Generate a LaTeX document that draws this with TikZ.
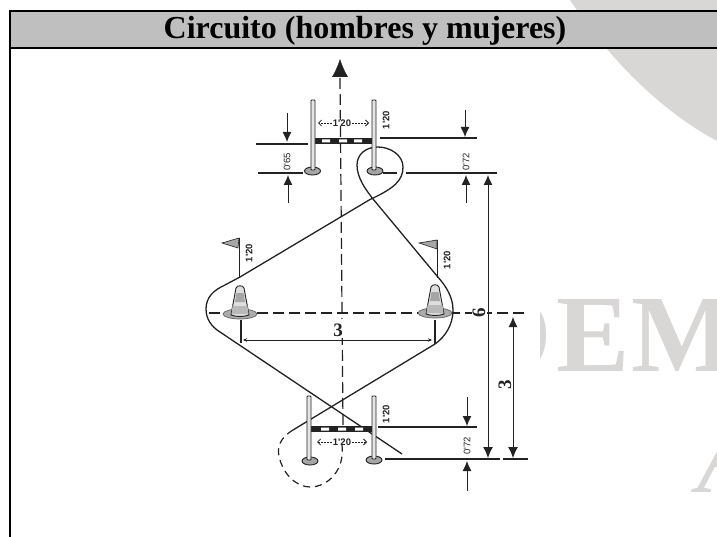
\documentclass[tikz,border=0pt]{standalone}
\usepackage{fontspec}
\setmainfont{Liberation Serif}
\newfontfamily\lsans{Liberation Sans}
\usetikzlibrary{arrows.meta}
\definecolor{wm}{HTML}{D8D7D6}
\definecolor{ink}{HTML}{222222}
\tikzset{
  x=1pt,y=-1pt,
  track/.style={draw=ink,line width=1.3pt},
  dashtrack/.style={draw=ink,line width=1.2pt,dash pattern=on 7pt off 5pt},
  axis/.style={draw=ink,line width=1.2pt,dash pattern=on 11pt off 5pt},
  dimline/.style={draw=ink,line width=1.1pt},
  dimarrow/.style={draw=ink,line width=1pt,-{Latex[length=10pt,width=9pt]}},
  bothsmall/.style={draw=ink,line width=1pt,{Stealth[length=4pt,width=3.5pt]}-{Stealth[length=4pt,width=3.5pt]}},
  sidearrow/.style={draw=ink,line width=0.8pt,dash pattern=on 2pt off 1pt,-{Straight Barb[length=3pt,width=6pt]}},
  midtip/.style={draw=none,-{Latex[length=12pt,width=10pt]}},
  smalltxt/.style={font=\lsans\bfseries\fontsize{9.5}{9.5}\selectfont,text=ink,inner sep=0pt},
  bigtxt/.style={font=\bfseries\fontsize{19}{19}\selectfont,text=ink,inner sep=0pt},
  post/.style={draw=ink,line width=0.9pt,fill=gray!20,rounded corners=0.8pt},
  base/.style={draw=ink,line width=0.9pt,fill=gray!70},
  flag/.style={draw=ink,line width=0.6pt,fill=gray!70},
  wmtxt/.style={text=wm,inner sep=0pt,font=\bfseries\fontsize{110}{110}\selectfont},
}
\newcommand{\conedraw}[2]{%
  \fill[gray!65,draw=ink!70,line width=0.7pt] (#1,#2+1) ellipse [x radius=17,y radius=5];
  \path[draw=ink,line width=0.9pt,fill=gray!25] (#1-9,#2+2) -- (#1-4,#2-25) .. controls (#1-3,#2-28) and (#1+3,#2-28) .. (#1+4,#2-25) -- (#1+9,#2+2) .. controls (#1+4,#2+4) and (#1-4,#2+4) .. cycle;
  \fill[gray!70] (#1-3.5,#2-20) -- (#1+3.5,#2-20) -- (#1+5,#2-11) -- (#1-5,#2-11) -- cycle;
  \fill[gray!55] (#1-7.5,#2-7) -- (#1+7.5,#2-7) -- (#1+8.5,#2+1) -- (#1-8.5,#2+1) -- cycle;
}
\begin{document}
\begin{tikzpicture}
\useasboundingbox (0,0) rectangle (717,537);
\begin{scope}
\clip (0,0) rectangle (717,537);
% watermark
\fill[wm] (570,0) .. controls (600,45) and (650,105) .. (717,141) -- (717,0) -- cycle;
\node[wmtxt,anchor=base east] (wmD) at (552,371) {D};
\node[wmtxt,anchor=base west] (wmE) at (556,371) {E};
\node[wmtxt,anchor=base west] (wmM) at (631,371) {M};
\node[wmtxt,anchor=base west,font=\itshape\fontsize{110}{110}\selectfont] (wmA) at (697,492) {A};
\fill[white] (12,50) rectangle (540,537);
% header
\fill[black!25] (10,11) rectangle (717,48);
\draw[black,line width=2pt] (717,11) -- (10,11) -- (10,537);
\draw[black,line width=2pt] (10,48) -- (717,48);
\node[font=\bfseries\fontsize{32}{32}\selectfont,inner sep=0pt] (title) at (365,31) {Circuito (hombres y mujeres)};
\end{scope}

% axes
\coordinate (axT) at (340,59);
\coordinate (axTb) at (340,78);
\coordinate (axB) at (343,425);
\draw[axis] (axTb) -- (axB);
\draw[draw=ink,-{Latex[length=18pt,width=16pt]}] (340,76) -- (axT);
\coordinate (hzL) at (209,313);
\coordinate (hzR) at (525,313);
\draw[axis] (hzL) -- (hzR);

% track
\draw[track] (240,277) -- (370,199.5)
  .. controls (395,188) and (403,180) .. (403,167)
  .. controls (403,155) and (390,147) .. (378,147)
  .. controls (365,147) and (357,155) .. (357,165)
  .. controls (357,178) and (366,190) .. (373,199)
  -- (437,276)
  .. controls (447,287) and (453,298) .. (453,310)
  .. controls (453,325) and (445,337) .. (435,344)
  -- (293,430);
\draw[dashtrack] (293,430)
  .. controls (280,438) and (277,447) .. (279,456)
  .. controls (283,475) and (297,487) .. (310,487)
  .. controls (328,487) and (345,470) .. (342,445);
\draw[track] (402,454) -- (217,330)
  .. controls (208,323) and (206,315) .. (206,309)
  .. controls (206,297) and (214,290) .. (225,285) -- (240,277);
\path[midtip] (292,246) -- (301,240.5);
\path[midtip] (382,211) -- (390,221);
\path[midtip] (398,365) -- (389,370.5);
\path[midtip] (295,383.5) -- (286,377.5);

% cones and flags
\conedraw{240}{313}
\conedraw{435}{312}
\draw[track] (239.5,238) -- (239.5,278);
\draw[flag] (239,238) -- (222,243) -- (238,248) -- cycle;
\draw[track] (437.5,240) -- (437.5,278);
\draw[flag] (437,240) -- (419,243) -- (437,249) -- cycle;
\node[smalltxt,rotate=90] (fl1) at (249,253) {1'20};
\node[smalltxt,rotate=90] (fl2) at (447,260) {1'20};

% upper gate
\fill[ink] (312,138) rectangle (375,144);
\fill[white] (322,139.5) rectangle (330,142.5) (339,139.5) rectangle (347,142.5) (354,139.5) rectangle (362,142.5);
\draw[base] (312.5,171) ellipse [x radius=8,y radius=4];
\draw[base] (375,171) ellipse [x radius=8,y radius=4];
\draw[post] (311,100) rectangle (315,170);
\draw[post] (372,100) rectangle (376,170);
\node[smalltxt,fill=white,inner xsep=1pt] (w1) at (342,123) {1'20};
\coordinate (w1L) at (318,123);
\coordinate (w1R) at (369,123);
\draw[sidearrow] (w1) -- (w1L);
\draw[sidearrow] (w1) -- (w1R);
\node[smalltxt,rotate=90] (h1) at (386,120) {1'20};

% lower gate
\fill[ink] (311,426) rectangle (372,432);
\fill[white] (321,427.5) rectangle (329,430.5) (338,427.5) rectangle (346,430.5) (355,427.5) rectangle (363,430.5);
\draw[base] (310,461) ellipse [x radius=8,y radius=4];
\draw[base] (374,460) ellipse [x radius=8,y radius=4];
\draw[post] (307,396) rectangle (311,460);
\draw[post] (372,396) rectangle (376,459);
\node[smalltxt,fill=white,inner xsep=1pt] (w2) at (342,442) {1'20};
\coordinate (w2L) at (317,442);
\coordinate (w2R) at (367,442);
\draw[sidearrow] (w2) -- (w2L);
\draw[sidearrow] (w2) -- (w2R);
\node[smalltxt,rotate=90] (h2) at (386,414) {1'20};

% centre dimension 3
\draw[dimline] (241,320) -- (241,343);
\draw[dimline] (435,320) -- (435,344);
\coordinate (d3L) at (243,340);
\coordinate (d3R) at (432,340);
\draw[bothsmall] (d3L) -- (d3R);
\fill[white] (331,319) rectangle (347,338);
\node[bigtxt] (d3) at (338,330) {3};

% upper left dim
\draw[dimline] (256,144) -- (308,144);
\draw[dimline] (258,173) -- (303,173);
\draw[dimarrow] (287,113) -- (287,142);
\draw[dimarrow] (288,203) -- (288,175);
\node[smalltxt,rotate=90,font=\lsans\fontsize{9.5}{9.5}\selectfont] (t65) at (287,162) {0'65};

% upper right dim
\draw[dimline] (380,138) -- (477,138);
\draw[dimline] (383,173) -- (397,173);
\draw[dimline] (406,173) -- (497,173);
\draw[dimarrow] (465,110) -- (465,137);
\draw[dimarrow] (466,203) -- (466,175);
\node[smalltxt,rotate=90,font=\lsans\fontsize{9.5}{9.5}\selectfont] (t72a) at (466,162) {0'72};

% lower right dim
\draw[dimline] (378,427) -- (477,427);
\draw[dimline] (385,459) -- (500,459);
\draw[dimline] (503,459) -- (528,459);
\draw[dimarrow] (467,397) -- (467,426);
\draw[dimarrow] (467,491) -- (467,461);
\node[smalltxt,rotate=90,font=\lsans\fontsize{9.5}{9.5}\selectfont] (t72b) at (467,446) {0'72};

% long dims
\draw[draw=ink,line width=1pt,{Latex[length=10pt,width=9pt]}-{Latex[length=11pt,width=10pt]}] (488,175) -- (488,458);
\draw[draw=ink,line width=1pt,{Latex[length=10pt,width=9pt]}-{Latex[length=11pt,width=10pt]}] (513,317) -- (513,458);
\fill[white] (472,304) rectangle (487,322);
\node[bigtxt,rotate=90] (d6) at (479,313) {6};
\node[bigtxt,rotate=90] (d3b) at (505,385) {3};
\end{tikzpicture}
\end{document}
